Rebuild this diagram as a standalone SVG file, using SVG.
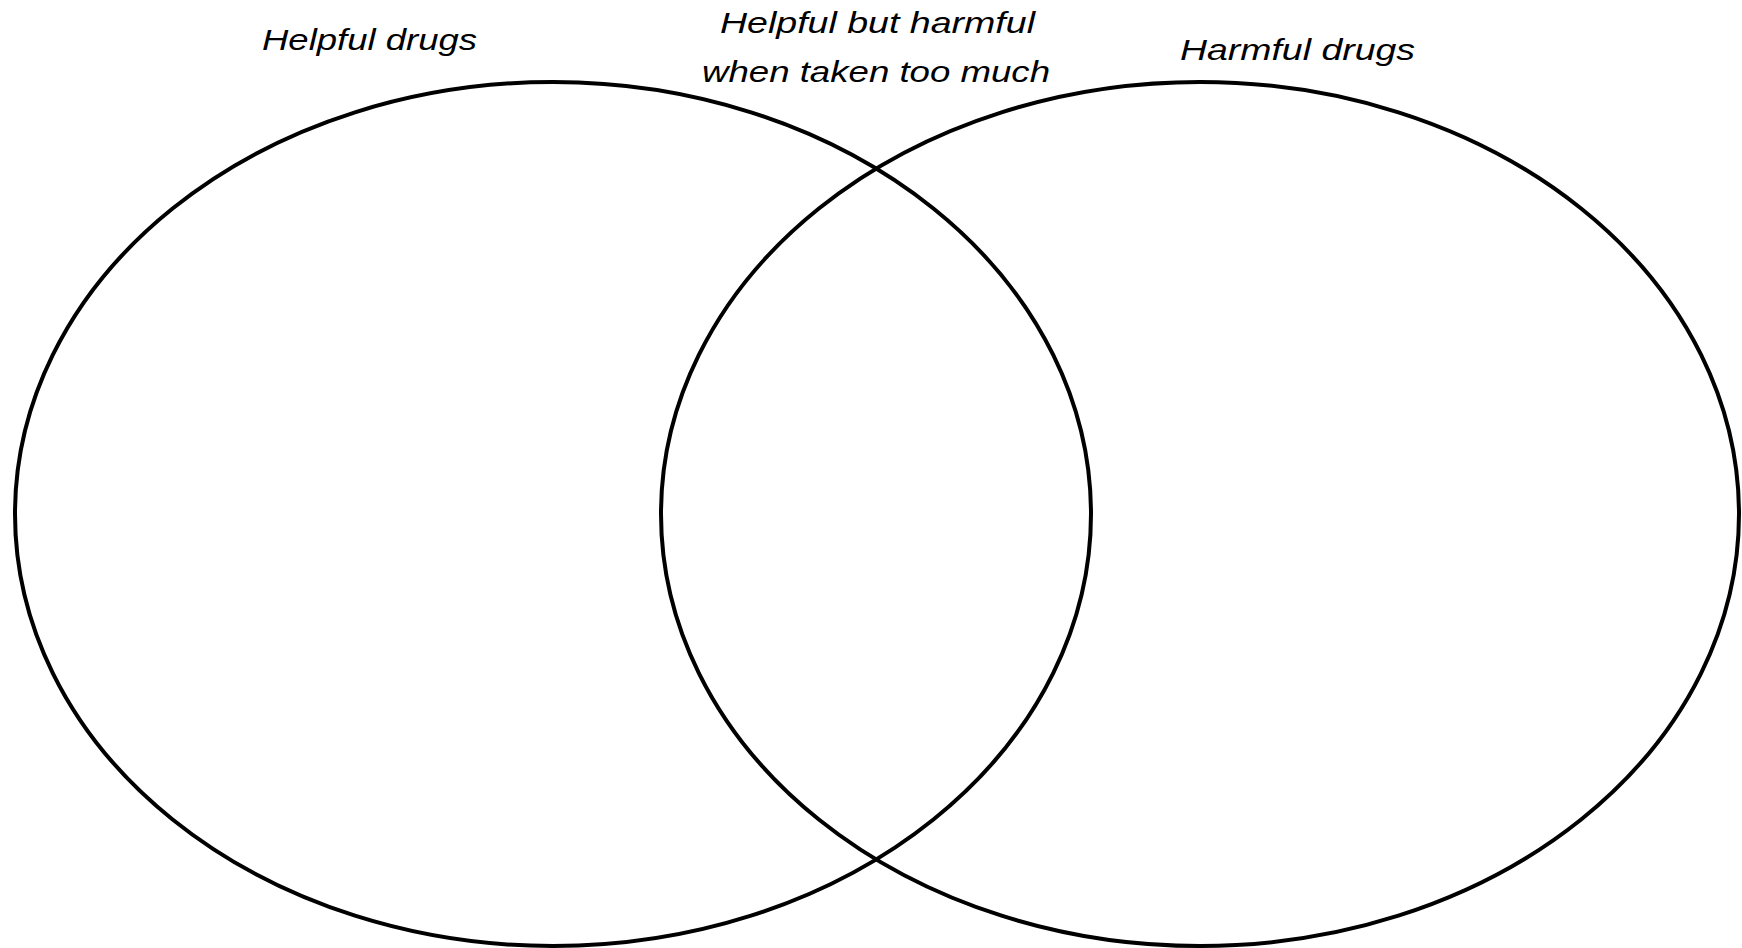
<svg xmlns="http://www.w3.org/2000/svg" width="1742" height="948" viewBox="0 0 1742 948">
<style>
.set{fill:none;stroke:#000;stroke-width:4}
.lbl{font-family:"Liberation Sans",Arial,sans-serif;font-size:30px;fill:#000;font-style:italic}
</style>
<rect width="1742" height="948" fill="#fff"/>
<g id="helpful">
<ellipse class="set" cx="553" cy="514" rx="538" ry="432"/>
<text class="lbl" x="262" y="50" textLength="215" lengthAdjust="spacingAndGlyphs">Helpful drugs</text>
</g>
<g id="harmful">
<ellipse class="set" cx="1200" cy="514" rx="539" ry="432"/>
<text class="lbl" x="1180" y="60" textLength="235" lengthAdjust="spacingAndGlyphs">Harmful drugs</text>
</g>
<g id="overlap">
<text class="lbl" x="720" y="33" textLength="315" lengthAdjust="spacingAndGlyphs">Helpful but harmful</text>
<text class="lbl" x="702" y="82" textLength="348" lengthAdjust="spacingAndGlyphs">when taken too much</text>
</g>
<g id="connectors"></g>
</svg>
